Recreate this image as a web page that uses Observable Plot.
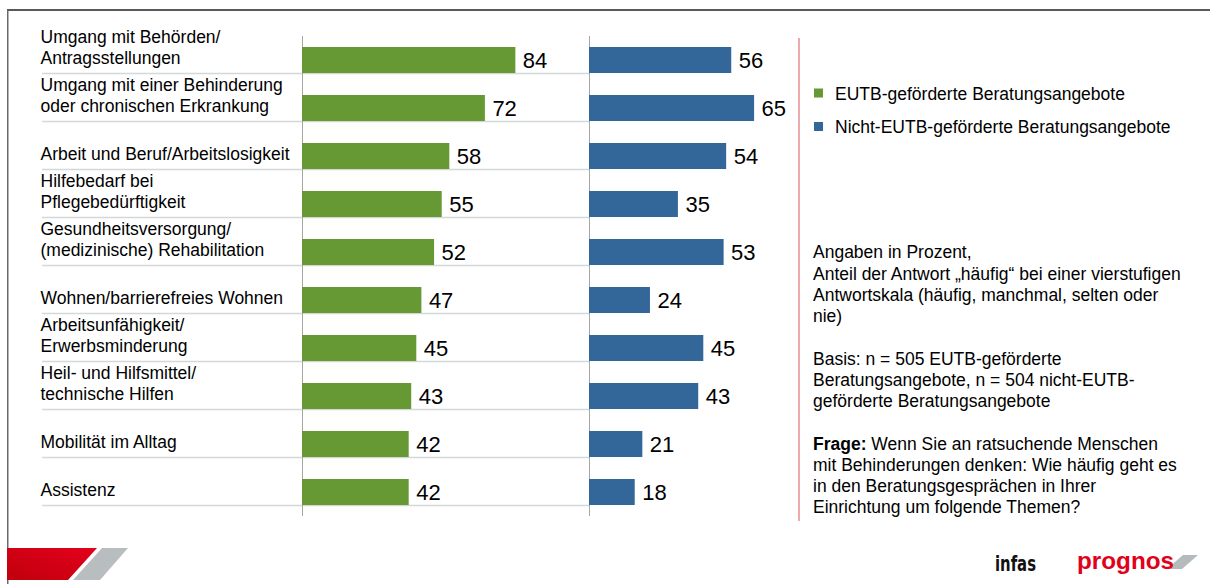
<!DOCTYPE html>
<html>
<head>
<meta charset="utf-8">
<script src="https://cdn.jsdelivr.net/npm/d3@7"></script>
<script src="https://cdn.jsdelivr.net/npm/@observablehq/plot@0.6"></script>
<style>
  html, body { margin: 0; padding: 0; background: #fff; }
  #wrap { position: relative; width: 1210px; height: 584px; overflow: hidden; background: #fff; }
  #chart, #deco { position: absolute; left: 0; top: 0; }
  #deco { pointer-events: none; }
</style>
</head>
<body>
<div id="wrap">
  <div id="chart"></div>
  <svg id="deco" width="1210" height="584" xmlns="http://www.w3.org/2000/svg"></svg>
</div>
<script>
// ---------- data ----------
const categories = [
  "Umgang mit Behörden/\nAntragsstellungen",
  "Umgang mit einer Behinderung\noder chronischen Erkrankung",
  "Arbeit und Beruf/Arbeitslosigkeit",
  "Hilfebedarf bei\nPflegebedürftigkeit",
  "Gesundheitsversorgung/\n(medizinische) Rehabilitation",
  "Wohnen/barrierefreies Wohnen",
  "Arbeitsunfähigkeit/\nErwerbsminderung",
  "Heil- und Hilfsmittel/\ntechnische Hilfen",
  "Mobilität im Alltag",
  "Assistenz"
];
const eutbValues = [84, 72, 58, 55, 52, 47, 45, 43, 42, 42];
const nichtEutbValues = [56, 65, 54, 35, 53, 24, 45, 43, 21, 18];
const seriesNames = ["EUTB-geförderte Beratungsangebote", "Nicht-EUTB-geförderte Beratungsangebote"];
const seriesColors = ["#669933", "#336699"];
const noteLines = [
  "Angaben in Prozent,",
  "Anteil der Antwort „häufig“ bei einer vierstufigen",
  "Antwortskala (häufig, manchmal, selten oder",
  "nie)",
  "",
  "Basis: n = 505 EUTB-geförderte",
  "Beratungsangebote, n = 504 nicht-EUTB-",
  "geförderte Beratungsangebote",
  "",
  "Frage: Wenn Sie an ratsuchende Menschen",
  "mit Behinderungen denken: Wie häufig geht es",
  "in den Beratungsgesprächen in Ihrer",
  "Einrichtung um folgende Themen?"
];
const boldPrefix = "Frage:";

// ---------- layout ----------
const W = 1210, H = 584;
const FONT = "'Liberation Sans', Arial, Helvetica, sans-serif";
const PX = 2.54;          // pixels per percentage point
const ML = 302;           // left edge of first panel
const STEP = 287;         // distance between panel baselines
const BAND = 260;         // panel width
const PAD = 1 - BAND / STEP;
const MR = W - ML - STEP * (2 - PAD);
const TOP = 36, BOTTOM = 516;
const LABEL_X = 40, SEP_X = 42;

const rows = [];
categories.forEach((c, i) => {
  rows.push({cat: c, series: seriesNames[0], value: eutbValues[i]});
  rows.push({cat: c, series: seriesNames[1], value: nichtEutbValues[i]});
});
const firstPanel = categories.map(c => ({cat: c, series: seriesNames[0]}));

const chart = Plot.plot({
  width: W,
  height: H,
  marginLeft: ML,
  marginRight: MR,
  marginTop: TOP,
  marginBottom: H - BOTTOM,
  style: {fontFamily: FONT, background: "transparent", overflow: "visible"},
  fx: {domain: seriesNames, paddingInner: PAD, paddingOuter: 0, round: false, axis: null},
  x: {domain: [0, BAND / PX], axis: null},
  y: {domain: categories, paddingInner: 0.458, paddingOuter: 0.229, round: false, axis: null},
  color: {domain: seriesNames, range: seriesColors},
  marks: [
    Plot.ruleY(firstPanel, {
      fx: "series", y: "cat", dy: 13,
      x1: -(ML - SEP_X) / PX, x2: STEP / PX,
      stroke: "#d3d8d8", strokeWidth: 1.6
    }),
    Plot.ruleX([0], {stroke: "#a6a6a6", strokeWidth: 1}),
    Plot.barX(rows, {fx: "series", y: "cat", x: "value", fill: "series"}),
    Plot.text(rows, {
      fx: "series", y: "cat", x: "value", text: d => String(d.value),
      dx: 7, dy: 0.5, textAnchor: "start", fontSize: 22, fill: "#000"
    }),
    Plot.text(firstPanel, {
      fx: "series", y: "cat", text: "cat", frameAnchor: "left",
      dx: -(ML - LABEL_X), dy: 3, textAnchor: "start", lineAnchor: "bottom",
      lineHeight: 1.2, fontSize: 17.5, fill: "#000"
    })
  ]
});
document.getElementById("chart").appendChild(chart);

// ---------- decoration: frame, divider, legend, notes, logos ----------
const esc = s => s.replace(/&/g, "&amp;").replace(/</g, "&lt;");
let deco = `
<defs>
  <linearGradient id="redg" x1="0" x2="1" y1="1" y2="0">
    <stop offset="0" stop-color="#c0000c"/>
    <stop offset="1" stop-color="#e4001c"/>
  </linearGradient>
</defs>
<line x1="7" x2="1210" y1="10" y2="10" stroke="#595959" stroke-width="2"/>
<line x1="7.75" x2="7.75" y1="10" y2="584" stroke="#6a6a6a" stroke-width="1.5"/>
<line x1="799" x2="799" y1="38" y2="521" stroke="#e98c94" stroke-width="1.5"/>
<polygon points="7,548 97,548 68,580 7,580" fill="url(#redg)"/>
<polygon points="102,548 128,548 100,580 73,580" fill="#b8bdc0"/>
`;
seriesNames.forEach((name, i) => {
  deco += `<rect x="814" y="${88.5 + i * 33.5}" width="9" height="9" fill="${seriesColors[i]}"/>`;
  deco += `<text x="835" y="${99.5 + i * 33.5}" font-family="${FONT}" font-size="17.5" fill="#000">${esc(name)}</text>`;
});
noteLines.forEach((line, i) => {
  if (!line) return;
  const y = 258.3 + i * 21.25;
  let content = esc(line);
  if (line.startsWith(boldPrefix)) {
    content = `<tspan font-weight="bold">${esc(boldPrefix)}</tspan>${esc(line.slice(boldPrefix.length))}`;
  }
  deco += `<text x="813" y="${y}" font-family="${FONT}" font-size="17.5" fill="#000" xml:space="preserve">${content}</text>`;
});
deco += `
<text x="995" y="570.5" font-family="'Liberation Sans Narrow', 'DejaVu Sans Condensed', ${FONT}" font-weight="bold" font-size="21" fill="#111" textLength="41" lengthAdjust="spacingAndGlyphs">infas</text>
<polygon points="1183,555 1198,555 1182,569 1167,569" fill="#b5babd"/>
<text x="1077" y="568.5" font-family="${FONT}" font-weight="bold" font-size="24" fill="#e2001a" textLength="97" lengthAdjust="spacingAndGlyphs">prognos</text>
`;
document.getElementById("deco").innerHTML = deco;
</script>
</body>
</html>
